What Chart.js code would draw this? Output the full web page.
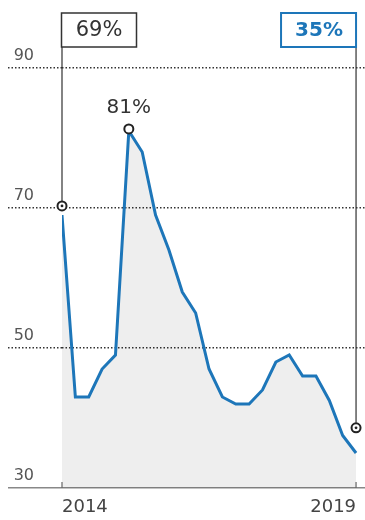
<!DOCTYPE html>
<html lang="en">
  <head>
    <meta charset="UTF-8" />
    <title>Share chart</title>
    <script src="https://cdn.jsdelivr.net/npm/chart.js"></script>
    <style>
      body {
        margin: 0;
        background: #fff;
      }
      canvas {
        display: block;
      }
    </style>
  </head>
  <body>
    <canvas id="shareChart" width="365" height="520"></canvas>

    <script>
      // values, one point per step from 2014 to 2019
      const shareValues = [
        69, 43, 43, 47, 49, 81, 78, 69, 64, 58, 55, 47, 43, 42, 42, 44, 48, 49,
        46, 46, 42.5, 37.5, 35,
      ];
      // annotation rings (sit a little above the line, as in the print)
      const markerValues = [70.3, null, null, null, null, 81.3, null, null, null, null, null, null, null, null, null, null, null, null, null, null, null, null, 38.6];
      const markerDots = [70.3, null, null, null, null, null, null, null, null, null, null, null, null, null, null, null, null, null, null, null, null, null, 38.6];

      const yTicks = [30, 50, 70, 90];
      const xTickValues = [0, 22];
      const xTickLabels = ["2014", "2019"];

      const startLabel = "69%";
      const endLabel = "35%";
      const peakLabel = "81%";
      const peakIndex = 5;

      const blue = "#1d76b9";
      const ink = "#333";
      const font = "'DejaVu Sans', sans-serif";

      const toPoints = (arr) => arr.map((v, i) => ({ x: i, y: v }));

      const annotations = {
        id: "annotations",
        beforeDatasetsDraw(chart) {
          const { ctx, scales } = chart;
          const x0 = scales.x.getPixelForValue(0);
          const x1 = scales.x.getPixelForValue(shareValues.length - 1);
          ctx.save();
          ctx.strokeStyle = ink;
          ctx.lineWidth = 1.2;
          // leader lines from boxes down to the rings
          ctx.beginPath();
          ctx.moveTo(x0, 47);
          ctx.lineTo(x0, scales.y.getPixelForValue(markerValues[0]) - 5);
          ctx.moveTo(x1, 47);
          ctx.lineTo(x1, scales.y.getPixelForValue(markerValues[22]) - 5);
          ctx.stroke();
          ctx.restore();
        },
        afterDraw(chart) {
          const { ctx, scales } = chart;
          const x0 = scales.x.getPixelForValue(0);
          const x1 = scales.x.getPixelForValue(shareValues.length - 1);
          const bottom = scales.y.getPixelForValue(30);
          ctx.save();

          // x tick marks point up into the plot
          ctx.strokeStyle = "#666";
          ctx.lineWidth = 1.2;
          ctx.beginPath();
          xTickValues.forEach((v) => {
            const px = scales.x.getPixelForValue(v);
            ctx.moveTo(px, bottom);
            ctx.lineTo(px, bottom - 6);
          });
          ctx.stroke();

          // start box
          ctx.lineWidth = 1.5;
          ctx.strokeStyle = ink;
          ctx.strokeRect(x0 - 0.5, 13, 75, 34);
          ctx.fillStyle = ink;
          ctx.font = "21px " + font;
          ctx.textAlign = "center";
          ctx.textBaseline = "middle";
          ctx.fillText(startLabel, x0 + 37, 31);

          // end box
          ctx.lineWidth = 2;
          ctx.strokeStyle = blue;
          ctx.strokeRect(x1 - 75, 13, 75, 34);
          ctx.fillStyle = blue;
          ctx.font = "bold 20px " + font;
          ctx.fillText(endLabel, x1 - 37, 31);

          // peak label
          const px = scales.x.getPixelForValue(peakIndex);
          const py = scales.y.getPixelForValue(markerValues[peakIndex]);
          ctx.fillStyle = ink;
          ctx.font = "20px " + font;
          ctx.fillText(peakLabel, px, py - 21);
          ctx.restore();
        },
      };

      new Chart(document.getElementById("shareChart"), {
        type: "line",
        data: {
          datasets: [
            {
              label: "dots",
              data: toPoints(markerDots),
              showLine: false,
              clip: false,
              pointRadius: 1.4,
              pointBackgroundColor: "#222",
              pointBorderWidth: 0,
              order: 0,
            },
            {
              label: "markers",
              data: toPoints(markerValues),
              showLine: false,
              clip: false,
              pointRadius: 4.5,
              pointBorderWidth: 2,
              pointBorderColor: "#222",
              pointBackgroundColor: "#fff",
              order: 1,
            },
            {
              label: "share",
              data: toPoints(shareValues),
              borderColor: blue,
              borderWidth: 3,
              borderJoinStyle: "miter",
              pointRadius: 0,
              fill: "origin",
              backgroundColor: "rgba(0,0,0,0.065)",
              tension: 0,
              order: 2,
            },
          ],
        },
        options: {
          responsive: false,
          animation: false,
          devicePixelRatio: 1,
          layout: {
            autoPadding: false,
            padding: { top: 33, left: 8, right: 0, bottom: 0 },
          },
          plugins: {
            legend: { display: false },
            tooltip: { enabled: false },
          },
          scales: {
            x: {
              type: "linear",
              min: 0,
              max: 22.67,
              border: { display: false },
              grid: { display: false, drawTicks: false },
              afterBuildTicks: (scale) => {
                scale.ticks = xTickValues.map((v) => ({ value: v }));
              },
              afterFit: (scale) => {
                scale.height = 32;
                scale.paddingLeft = 0;
                scale.paddingRight = 0;
              },
              ticks: {
                autoSkip: false,
                maxRotation: 0,
                align: "inner",
                padding: 9,
                color: "#444",
                font: { family: font, size: 18 },
                callback: (v) => xTickLabels[xTickValues.indexOf(v)],
              },
            },
            y: {
              min: 30,
              max: 95,
              border: {
                display: false,
                dash: (c) => (c.tick && c.tick.value === 30 ? [] : [1.5, 2]),
              },
              grid: {
                color: (c) => (c.tick && c.tick.value === 30 ? "#888" : ink),
                lineWidth: 1.5,
                tickLength: 54,
                tickColor: (c) => (c.tick && c.tick.value === 30 ? "#888" : ink),
                tickWidth: 1.5,
                tickBorderDash: (c) => (c.tick && c.tick.value === 30 ? [] : [1.5, 2]),
              },
              afterBuildTicks: (scale) => {
                scale.ticks = yTicks.map((v) => ({ value: v }));
              },
              afterFit: (scale) => {
                scale.width = 54;
              },
              ticks: {
                crossAlign: "center",
                padding: -26,
                labelOffset: -12,
                color: "#555",
                font: { family: font, size: 16 },
              },
            },
          },
        },
        plugins: [annotations],
      });
    </script>
  </body>
</html>
